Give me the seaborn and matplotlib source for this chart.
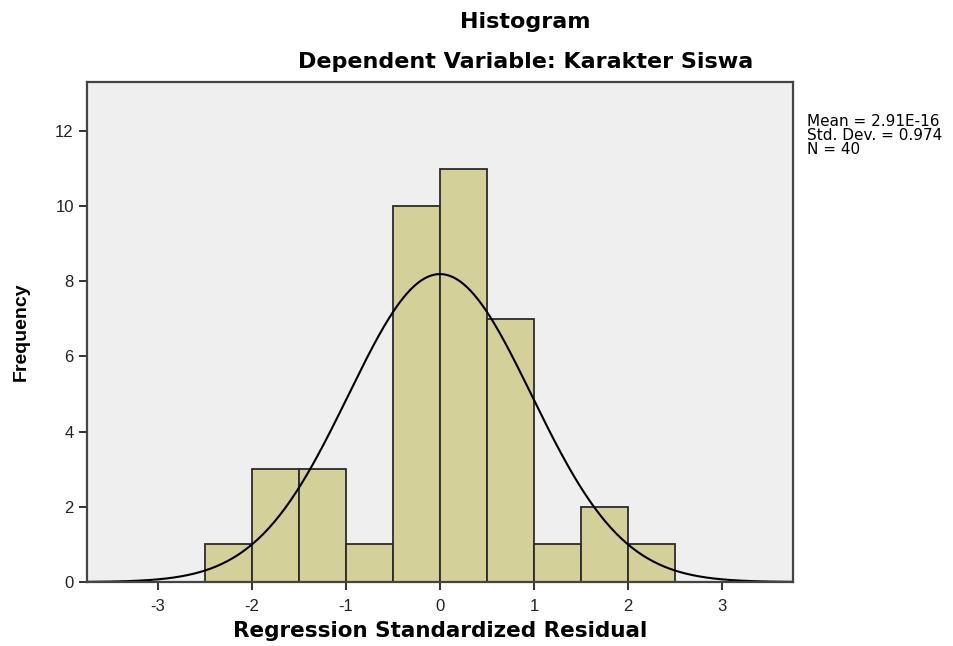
import numpy as np
import pandas as pd
import matplotlib
matplotlib.use("Agg")
import matplotlib.pyplot as plt
import seaborn as sns

# =====================================================
# DATA (dibaca dari grafik SPSS)
# =====================================================

bin_edges = [-2.5, -2.0, -1.5, -1.0, -0.5, 0.0, 0.5, 1.0, 1.5, 2.0, 2.5]
frekuensi = [1, 3, 3, 1, 10, 11, 7, 1, 2, 1]

mean_res = 2.91e-16
sd_res = 0.974
n_res = 40

x_ticks = [-3, -2, -1, 0, 1, 2, 3]
y_ticks = [0, 2, 4, 6, 8, 10, 12]

judul = "Histogram"
sub_judul = "Dependent Variable: Karakter Siswa"
label_x = "Regression Standardized Residual"
label_y = "Frequency"
info = "Mean = 2.91E-16\nStd. Dev. = 0.974\nN = 40"

# =====================================================
# STYLE
# =====================================================

sns.set_style("white")
plt.rcParams['font.family'] = ['Liberation Sans', 'DejaVu Sans']
plt.rcParams['axes.unicode_minus'] = False
plt.rcParams['text.color'] = 'black'
plt.rcParams['axes.labelcolor'] = 'black'

df = pd.DataFrame({
    "tengah": [(a + b) / 2 for a, b in zip(bin_edges[:-1], bin_edges[1:])],
    "frek": frekuensi,
})

lebar_bin = bin_edges[1] - bin_edges[0]

# kurva normal dari mean & sd
xs = np.linspace(-3.75, 3.75, 400)
ys = n_res * lebar_bin * np.exp(-0.5 * ((xs - mean_res) / sd_res) ** 2) / (sd_res * np.sqrt(2 * np.pi))
kurva = pd.DataFrame({"x": xs, "y": ys})

# =====================================================
# PLOT
# =====================================================

fig = plt.figure(figsize=(9.54, 6.46), dpi=100)
ax = fig.add_axes([0.0912, 0.099, 0.74, 0.774])
ax.set_facecolor("#EFEFEF")

sns.histplot(data=df, x="tengah", weights="frek", bins=bin_edges,
             color="#D4D09A", alpha=1, edgecolor="#2b2b2b",
             linewidth=1.3, ax=ax)

sns.lineplot(data=kurva, x="x", y="y", color="black",
             linewidth=1.5, ax=ax)

ax.set_xlim(-3.75, 3.75)
ax.set_ylim(0, 13.3)
ax.set_xticks(x_ticks)
ax.set_yticks(y_ticks)
ax.tick_params(axis="both", direction="out", length=6, width=1.3,
               labelsize=12, colors="#222222", bottom=True, left=True)
ax.tick_params(axis="x", pad=6)

for s in ax.spines.values():
    s.set_color("#444444")
    s.set_linewidth(1.6)

ax.set_xlabel(label_x, fontsize=15.5, fontweight="bold", labelpad=5,
              family="DejaVu Sans")
ax.set_ylabel(label_y, fontsize=14, fontweight="bold", labelpad=18)

fig.text(0.551, 0.966, judul, ha="center", va="center",
         fontsize=16, fontweight="bold", family="DejaVu Sans")
fig.text(0.551, 0.904, sub_judul, ha="center", va="center",
         fontsize=16, fontweight="bold", family="DejaVu Sans")

fig.text(0.846, 0.824, info, ha="left", va="top",
         fontsize=11, linespacing=0.92, family="DejaVu Sans")

fig.savefig("out.png", dpi=100)
plt.close()
